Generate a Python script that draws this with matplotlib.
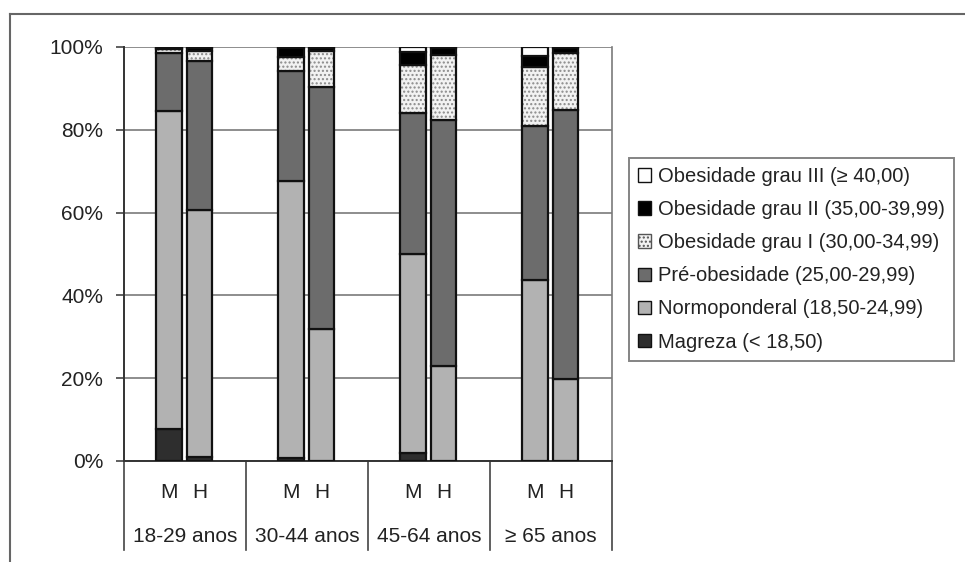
import numpy as np
import matplotlib
matplotlib.use('Agg')
import matplotlib.pyplot as plt
from matplotlib.patches import Patch
from matplotlib.lines import Line2D
import matplotlib.transforms as mtransforms

plt.rcParams['font.family'] = ['Liberation Sans', 'DejaVu Sans']
plt.rcParams['hatch.linewidth'] = 1.0

# data (percent), bars ordered M, H for each age group
age_groups = ['18-29 anos', '30-44 anos', '45-64 anos', '\u2265 65 anos']
sexes = ['M', 'H']

magreza = [7.8, 0.9, 0.8, 0.0, 1.9, 0.0, 0.0, 0.0]
normoponderal = [76.7, 59.7, 66.8, 31.8, 48.1, 23.0, 43.7, 19.8]
pre_obesidade = [14.0, 35.9, 26.6, 58.6, 34.0, 59.4, 37.1, 65.0]
obesidade_1 = [1.0, 2.6, 3.5, 8.7, 11.7, 15.7, 14.3, 13.8]
obesidade_2 = [0.2, 0.6, 2.0, 0.6, 3.2, 1.6, 2.7, 1.2]
obesidade_3 = [0.3, 0.3, 0.3, 0.3, 1.1, 0.3, 2.2, 0.2]

labels = ['Magreza (< 18,50)', 'Normoponderal (18,50-24,99)',
          'Pré-obesidade (25,00-29,99)', 'Obesidade grau I (30,00-34,99)',
          'Obesidade grau II (35,00-39,99)', 'Obesidade grau III (\u2265 40,00)']
series = [magreza, normoponderal, pre_obesidade, obesidade_1, obesidade_2, obesidade_3]
colors = ['#2e2e2e', '#b2b2b2', '#6c6c6c', '#f2f2f2', '#000000', '#ffffff']
hatches = [None, None, None, '....', None, None]

fig = plt.figure(figsize=(9.65, 5.62), dpi=100)
W, H = 965, 562
ax = fig.add_axes([124 / W, (H - 461) / H, (612 - 124) / W, (461 - 47) / H])

offsets = [0.37, 0.62]
width = 0.21
x = np.array([g + offsets[s] for g in range(len(age_groups)) for s in range(len(sexes))])

bottom = np.zeros(len(x))
for vals, c, h in zip(series, colors, hatches):
    vals = np.array(vals)
    if h:
        ax.bar(x, vals, width, bottom=bottom, color=c, hatch=h, edgecolor='#8a8a8a',
               linewidth=0, zorder=3)
        ax.bar(x, vals, width, bottom=bottom, fill=False, edgecolor='#111111',
               linewidth=1.6, zorder=3)
    else:
        ax.bar(x, vals, width, bottom=bottom, color=c, edgecolor='#111111',
               linewidth=1.6, zorder=3)
    bottom += vals

ax.set_xlim(0, len(age_groups))
ax.set_ylim(0, 100)
ax.set_yticks(np.arange(0, 101, 20))
ax.set_yticklabels([f'{v}%' for v in range(0, 101, 20)], fontsize=15, color='#222222')
ax.yaxis.grid(True, color='#7a7a7a', linewidth=1.2, zorder=0)
ax.set_axisbelow(True)
ax.tick_params(axis='y', length=6, width=1.2, color='#444444', pad=9)
ax.set_xticks([])

ax.spines['top'].set_visible(False)
ax.spines['right'].set_color('#7a7a7a')
ax.spines['right'].set_linewidth(1.2)
ax.spines['left'].set_color('#333333')
ax.spines['left'].set_linewidth(1.4)
ax.spines['bottom'].set_color('#333333')
ax.spines['bottom'].set_linewidth(1.4)

# multi-level category axis
trans = mtransforms.blended_transform_factory(ax.transData, ax.transAxes)
sep_bottom = -(550 - 461) / (461 - 47)
for g in range(len(age_groups) + 1):
    ax.plot([g, g], [0, sep_bottom], transform=trans, color='#444444',
            linewidth=1.2, clip_on=False)
for i, xi in enumerate(x):
    ax.text(xi, -(492 - 461) / (461 - 47), sexes[i % 2], transform=trans,
            ha='center', va='center', fontsize=15, color='#222222')
for g, name in enumerate(age_groups):
    ax.text(g + 0.5, -(537 - 461) / (461 - 47), name, transform=trans,
            ha='center', va='center', fontsize=15, color='#222222')

# legend
handles = []
for lab, c, h in zip(labels, colors, hatches):
    if h:
        handles.append(Patch(facecolor=c, edgecolor='#555555', hatch='....', linewidth=1.0, label=lab))
    else:
        handles.append(Patch(facecolor=c, edgecolor='#111111', linewidth=1.0, label=lab))
leg = fig.legend(handles[::-1], labels[::-1], loc='upper left',
                 bbox_to_anchor=(629 / W, 1 - 158 / H), fontsize=14.5,
                 handlelength=0.65, handleheight=0.65, handletextpad=0.35,
                 labelspacing=0.7, borderpad=0.45, fancybox=False,
                 frameon=True, borderaxespad=0)
leg.get_frame().set_edgecolor('#666666')
leg.get_frame().set_linewidth(1.4)
for t in leg.get_texts():
    t.set_color('#222222')

# outer frame (top and left only)
fig.add_artist(Line2D([10 / W, 1], [1 - 14 / H, 1 - 14 / H], transform=fig.transFigure,
                      color='#666666', linewidth=1.5))
fig.add_artist(Line2D([10 / W, 10 / W], [0, 1 - 14 / H], transform=fig.transFigure,
                      color='#666666', linewidth=1.5))

fig.savefig('out.png', dpi=100, facecolor='white')
